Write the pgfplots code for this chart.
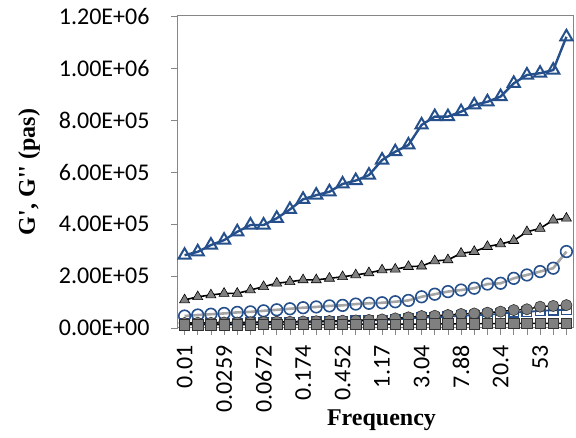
\documentclass[border=0pt]{standalone}
\usepackage{pgfplots}
\pgfplotsset{compat=1.18}
\usepackage{pgfplotstable}
\usepackage{fontspec}
\setmainfont{Carlito}
\newfontfamily\timesfont{Liberation Serif}
\definecolor{xblue}{RGB}{37,80,140}
\definecolor{xgray}{RGB}{128,128,128}
\definecolor{lgray}{RGB}{165,165,165}
\definecolor{axgray}{RGB}{134,134,134}

\pgfplotstableread{
i  s1      s2      s3      s4     s5     s6
0  2.80e5  1.08e5  4.6e4   1.9e4  1.7e4  1.3e4
1  2.93e5  1.20e5  5.0e4   2.0e4  1.8e4  1.3e4
2  3.19e5  1.27e5  5.3e4   2.0e4  1.8e4  1.3e4
3  3.38e5  1.33e5  5.6e4   2.1e4  1.9e4  1.3e4
4  3.70e5  1.33e5  6.0e4   2.1e4  1.9e4  1.3e4
5  3.96e5  1.46e5  6.2e4   2.2e4  2.0e4  1.3e4
6  3.96e5  1.59e5  6.6e4   2.3e4  2.1e4  1.4e4
7  4.22e5  1.72e5  7.0e4   2.4e4  2.2e4  1.4e4
8  4.56e5  1.78e5  7.4e4   2.4e4  2.2e4  1.4e4
9  4.95e5  1.85e5  7.8e4   2.5e4  2.3e4  1.4e4
10 5.11e5  1.85e5  8.1e4   2.6e4  2.4e4  1.4e4
11 5.24e5  1.91e5  8.5e4   2.7e4  2.5e4  1.4e4
12 5.54e5  1.97e5  8.7e4   2.8e4  2.6e4  1.4e4
13 5.67e5  2.04e5  9.2e4   2.9e4  2.7e4  1.5e4
14 5.88e5  2.12e5  9.5e4   3.1e4  2.9e4  1.5e4
15 6.46e5  2.23e5  9.7e4   3.3e4  3.0e4  1.5e4
16 6.78e5  2.26e5  1.01e5  3.7e4  3.3e4  1.5e4
17 7.04e5  2.36e5  1.06e5  4.1e4  3.6e4  1.5e4
18 7.81e5  2.38e5  1.20e5  4.6e4  4.0e4  1.5e4
19 8.13e5  2.58e5  1.30e5  4.7e4  4.1e4  1.6e4
20 8.13e5  2.62e5  1.40e5  5.0e4  4.4e4  1.6e4
21 8.32e5  2.87e5  1.46e5  5.4e4  4.7e4  1.6e4
22 8.58e5  2.94e5  1.53e5  5.6e4  4.9e4  1.6e4
23 8.70e5  3.13e5  1.69e5  5.9e4  5.1e4  1.7e4
24 8.90e5  3.23e5  1.72e5  6.3e4  5.5e4  1.7e4
25 9.41e5  3.36e5  1.91e5  6.9e4  6.0e4  1.8e4
26 9.73e5  3.70e5  2.04e5  7.2e4  6.2e4  1.8e4
27 9.80e5  3.83e5  2.17e5  8.2e4  6.6e4  1.8e4
28 9.92e5  4.15e5  2.30e5  8.5e4  6.8e4  1.8e4
29 1.12e6  4.22e5  2.94e5  8.8e4  7.0e4  1.8e4
}\datatable

\begin{document}
\begin{tikzpicture}
\useasboundingbox (-178pt,-110pt) rectangle (398pt,328pt);
\begin{axis}[
  at={(0pt,0pt)}, anchor=south west,
  scale only axis, width=395pt, height=312pt,
  xmin=-0.5, xmax=29.5, ymin=0, ymax=1.2e6,
  axis line style={axgray, line width=1pt},
  xtick={0,...,29},
  xticklabels={0.01,,,0.0259,,,0.0672,,,0.174,,,0.452,,,1.17,,,3.04,,,7.88,,,20.4,,,53,,},
  ytick={0,200000,400000,600000,800000,1000000,1200000},
  yticklabels={0.00E+00,2.00E+05,4.00E+05,6.00E+05,8.00E+05,1.00E+06,1.20E+06},
  scaled y ticks=false,
  tick align=outside, tick pos=left,
  major tick length=7pt,
  tick style={axgray, line width=0.8pt},
  x tick label style={rotate=90, anchor=east, font=\fontsize{24}{26}\selectfont},
  y tick label style={font=\fontsize{24}{26}\selectfont},
  xticklabel shift=7pt, yticklabel shift=18pt,
  xlabel={\timesfont\bfseries Frequency},
  ylabel={\timesfont\bfseries G', G'' (pas)},
  xlabel style={font=\fontsize{24}{26}\selectfont, at={(axis description cs:0.5,0)}, anchor=center, yshift=-92pt, xshift=6pt},
  ylabel style={font=\fontsize{24}{26}\selectfont, yshift=12pt},
  clip=false,
]
\draw[axgray, line width=1pt] (rel axis cs:0,1) -- (rel axis cs:1,1) -- (rel axis cs:1,0);
\addplot[xblue, line width=2.4pt, mark=triangle, mark size=7pt, mark options={fill=white, line width=2pt}] table[x=i, y=s1] {\datatable};
\addplot[black, line width=1.6pt, mark=triangle*, mark size=5.8pt, mark options={fill=xgray, draw=black, line width=0.6pt}] table[x=i, y=s2] {\datatable};
\addplot[lgray, line width=2.6pt, mark=o, mark size=5.8pt, mark options={draw=xblue, line width=1.6pt}] table[x=i, y=s3] {\datatable};
\addplot[xblue, line width=1.8pt, mark=square, mark size=4.8pt, mark options={draw=xblue, line width=1.4pt}] table[x=i, y=s5] {\datatable};
\addplot[black, line width=1.4pt, mark=*, mark size=5.6pt, mark options={fill=xgray, draw=black!80, line width=0.6pt}] table[x=i, y=s4] {\datatable};
\addplot[black, line width=1.4pt, mark=square*, mark size=5.2pt, mark options={fill=xgray, draw=black!80, line width=0.6pt}] table[x=i, y=s6] {\datatable};
\end{axis}
\end{tikzpicture}
\end{document}
